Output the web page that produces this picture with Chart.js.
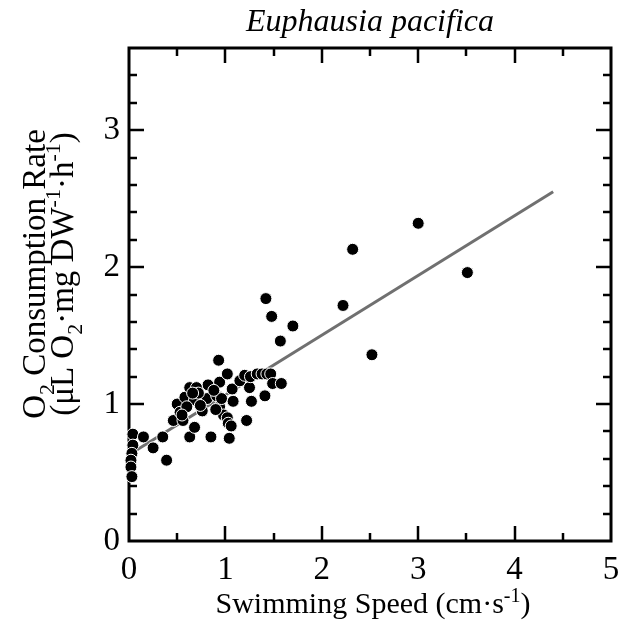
<!DOCTYPE html>
<html>
<head>
<meta charset="utf-8">
<script src="https://cdn.jsdelivr.net/npm/chart.js@4"></script>
<style>
  html, body { margin: 0; padding: 0; background: #fff; }
  #wrap { width: 618px; height: 623px; }
</style>
</head>
<body>
<div id="wrap"><canvas id="chart" width="618" height="623"></canvas></div>
<script>
// swimming speed (cm/s) and O2 consumption rate
const speed = [
  0.04, 0.04, 0.03, 0.02, 0.02, 0.03, 0.15, 0.25, 0.35, 0.39,
  0.46, 0.50, 0.53, 0.56, 0.58, 0.63, 0.63, 0.68, 0.68, 0.76,
  0.81, 0.82, 0.85, 0.91, 0.94, 0.94, 0.93, 0.96, 0.98, 1.02,
  1.02, 1.03, 1.04, 1.06, 1.07, 1.08, 1.15, 1.20, 1.22, 1.25,
  1.26, 1.27, 1.33, 1.38, 1.43, 1.47, 1.41, 1.49, 1.58, 1.57,
  1.42, 1.48, 1.70, 2.22, 2.32, 3.00, 2.52, 3.51,
  0.70, 0.72, 0.88, 0.60, 0.55, 0.74, 0.66, 0.90
];
const o2Rate = [
  0.78, 0.70, 0.64, 0.59, 0.54, 0.47, 0.76, 0.68, 0.76, 0.59,
  0.88, 1.00, 0.94, 0.88, 1.05, 1.12, 0.76, 1.03, 0.83, 0.95,
  1.04, 1.14, 0.76, 1.06, 1.16, 0.98, 1.32, 1.04, 0.92, 1.22,
  0.90, 0.86, 0.75, 0.84, 1.11, 1.02, 1.17, 1.21, 0.88, 1.12,
  1.20, 1.02, 1.22, 1.22, 1.22, 1.22, 1.06, 1.15, 1.15, 1.46,
  1.77, 1.64, 1.57, 1.72, 2.13, 2.32, 1.36, 1.96,
  1.12, 1.08, 1.10, 0.98, 0.92, 0.99, 1.08, 0.96
];
// regression line ends
const fitSpeed = [0, 4.4];
const fitRate = [0.63, 2.55];

const xMax = 5, yMax = 3.6;
const xMinorStep = 0.5, yMinorStep = 0.2;

const serif = '"Liberation Serif", "DejaVu Serif", serif';

function drawRich(ctx, parts, cx, baseline, size) {
  // parts: [text, 'sub' | 'sup' | undefined]
  const small = Math.round(size * 0.66);
  let total = 0;
  parts.forEach(p => {
    ctx.font = (p[1] ? small : size) + 'px ' + serif;
    total += ctx.measureText(p[0]).width;
  });
  let x = cx - total / 2;
  parts.forEach(p => {
    ctx.font = (p[1] ? small : size) + 'px ' + serif;
    let dy = 0;
    if (p[1] === 'sub') dy = size * 0.28;
    if (p[1] === 'sup') dy = -size * 0.38;
    ctx.fillText(p[0], x, baseline + dy);
    x += ctx.measureText(p[0]).width;
  });
}

const paperFrame = {
  id: 'paperFrame',
  beforeDatasetsDraw(chart) {
    const { ctx, chartArea: a, scales: { x, y } } = chart;
    ctx.save();
    ctx.strokeStyle = '#000';
    ctx.lineWidth = 2.5;
    ctx.beginPath();
    for (let v = xMinorStep; v < xMax - 0.01; v += xMinorStep) {
      const px = Math.round(x.getPixelForValue(v));
      const len = Math.abs(v - Math.round(v)) < 0.01 ? 15 : 8;
      ctx.moveTo(px, a.bottom); ctx.lineTo(px, a.bottom - len);
      ctx.moveTo(px, a.top); ctx.lineTo(px, a.top + len);
    }
    for (let v = yMinorStep; v < yMax - 0.01; v += yMinorStep) {
      const py = Math.round(y.getPixelForValue(v));
      const len = Math.abs(v - Math.round(v)) < 0.01 ? 15 : 8;
      ctx.moveTo(a.left, py); ctx.lineTo(a.left + len, py);
      ctx.moveTo(a.right, py); ctx.lineTo(a.right - len, py);
    }
    ctx.stroke();
    ctx.lineWidth = 3;
    ctx.strokeRect(a.left, a.top, a.right - a.left, a.bottom - a.top);
    ctx.restore();
  },
  afterDraw(chart) {
    const ctx = chart.ctx;
    const a = chart.chartArea;
    ctx.save();
    ctx.fillStyle = '#000';
    ctx.textBaseline = 'alphabetic';
    ctx.textAlign = 'left';

    // title
    ctx.font = 'italic 32px ' + serif;
    ctx.textAlign = 'center';
    ctx.fillText('Euphausia pacifica', (a.left + a.right) / 2, 31);
    ctx.textAlign = 'left';

    // x title
    drawRich(ctx, [['Swimming Speed (cm·s'], ['-1', 'sup'], [')']], 373, 613, 30);

    // y title, two rotated lines
    ctx.translate(0, 274);
    ctx.rotate(-Math.PI / 2);
    drawRich(ctx, [['O'], ['2', 'sub'], [' Consumption Rate']], 0, 45, 33);
    drawRich(ctx, [['(μL O'], ['2', 'sub'], ['·mg DW'], ['-1', 'sup'], ['·h'], ['-1', 'sup'], [')']], 0, 73, 33);
    ctx.restore();
  }
};

const ctx = document.getElementById('chart').getContext('2d');
new Chart(ctx, {
  data: {
    datasets: [
      {
        type: 'scatter',
        data: speed.map((s, i) => ({ x: s, y: o2Rate[i] })),
        backgroundColor: '#000',
        borderColor: '#fff',
        borderWidth: 1,
        pointRadius: 6,
        clip: false,
        order: 0
      },
      {
        type: 'line',
        data: fitSpeed.map((s, i) => ({ x: s, y: fitRate[i] })),
        borderColor: '#707070',
        borderWidth: 3,
        pointRadius: 0,
        order: 1
      }
    ]
  },
  options: {
    responsive: false,
    animation: false,
    events: [],
    layout: { padding: { top: 48, right: 7, left: 0, bottom: 0 } },
    plugins: { legend: { display: false }, tooltip: { enabled: false } },
    scales: {
      x: {
        type: 'linear',
        min: 0, max: xMax,
        grid: { display: false, drawTicks: false },
        border: { display: false },
        ticks: {
          stepSize: 1,
          color: '#000',
          padding: 10,
          maxRotation: 0,
          font: { family: serif, size: 33 }
        },
        afterFit(scale) {
          scale.height = 82;
          scale.paddingLeft = 0;
          scale.paddingRight = 0;
        }
      },
      y: {
        type: 'linear',
        min: 0, max: yMax,
        grid: { display: false, drawTicks: false },
        border: { display: false },
        ticks: {
          stepSize: 1,
          color: '#000',
          padding: 9,
          font: { family: serif, size: 33 },
          callback: v => Number.isInteger(v) ? String(v) : ''
        },
        afterFit(scale) { scale.width = 129; }
      }
    }
  },
  plugins: [paperFrame]
});
</script>
</body>
</html>
